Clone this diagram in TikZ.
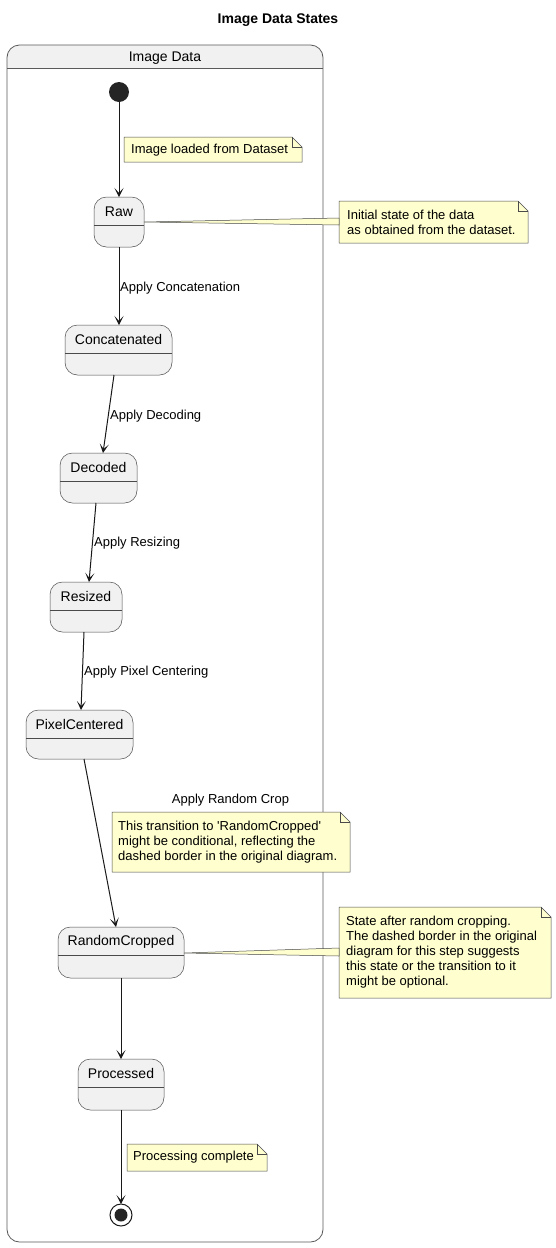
\documentclass[tikz,border=0pt]{standalone}
\usepackage{fontspec}
\setmainfont{Liberation Sans}
\usetikzlibrary{arrows.meta}
\definecolor{stfill}{HTML}{F1F1F1}
\definecolor{stline}{HTML}{181818}
\definecolor{bline}{HTML}{4A4A4A}
\definecolor{notefill}{HTML}{FEFECE}
\definecolor{cline}{HTML}{5A5A5A}
\tikzset{
  statebox/.style={draw=bline, line width=0.5pt, fill=stfill, rounded corners=12.5pt, inner sep=0pt, outer sep=0pt},
  divider/.style={draw=bline, line width=0.5pt},
  statelabel/.style={font=\fontsize{14}{16}\selectfont, inner sep=0pt},
  trlabel/.style={font=\fontsize{13}{15}\selectfont, inner sep=0pt, anchor=west},
  notetext/.style={font=\fontsize{13}{15}\selectfont, inner sep=0pt, anchor=west, align=left},
  notebody/.style={fill=notefill, draw=bline, line width=0.5pt},
  arr/.style={draw=stline, line width=1pt, -{Stealth[length=9pt,width=9pt,inset=5pt]}},
  container/.style={draw=cline, line width=0.8pt, rounded corners=12.5pt},
}
\newcommand\mystate[6]{%
  \node[statebox, minimum width={#4-#2}, minimum height={#5-#3}] (#1) at ({(#2+#4)/2},{(#3+#5)/2}) {};
  \draw[divider] (#2,#3+28) -- (#4,#3+28);
  \node[statelabel] (#1l) at ({(#2+#4)/2},#3+14.5) {#6};
}
\newcommand\mynote[5]{%
  \path[notebody] (#2,#3) -- (#4-10,#3) -- (#4,#3+10) -- (#4,#5) -- (#2,#5) -- cycle;
  \draw[bline, line width=0.5pt] (#4-10,#3) -- (#4-10,#3+10) -- (#4,#3+10);
  \coordinate (#1) at (#2,{(#3+#5)/2});
}
\begin{document}
\begin{tikzpicture}[x=1pt,y=-1pt]
\useasboundingbox (0,0) rectangle (556,1248);
\fill[white] (0,0) rectangle (556,1248);

% title
\node[font=\fontsize{14}{16}\selectfont\bfseries, inner sep=0pt] (title) at (278,20) {Image Data States};

% container
\begin{scope}
  \clip (7,45) rectangle (323,68);
  \fill[stfill, rounded corners=12.5pt] (7,45) rectangle (323,1242);
\end{scope}
\draw[container] (7,45) rectangle (323,1242);
\draw[draw=cline, line width=0.8pt] (7,68) -- (323,68);
\node[statelabel] (cont) at (165,58) {Image Data};

% start
\node[circle, fill=stline!95!white, minimum size=20pt, inner sep=0pt, outer sep=0pt] (start) at (119,92) {};

% states
\mystate{raw}{94}{197}{144}{247}{Raw}
\mystate{conc}{65}{325}{172}{375}{Concatenated}
\mystate{dec}{60}{453}{137}{503}{Decoded}
\mystate{res}{50}{582}{122}{632}{Resized}
\mystate{pix}{26}{710}{133}{759}{PixelCentered}
\mystate{rc}{58}{927}{184}{978}{RandomCropped}
\mystate{proc}{78}{1059}{164}{1110}{Processed}

% end
\node[circle, draw=stline, line width=1pt, fill=white, minimum size=22pt, inner sep=0pt, outer sep=0pt] (endc) at (121,1215) {};
\node[circle, fill=stline!95!white, minimum size=13pt, inner sep=0pt] (endi) at (endc) {};

% transitions
\draw[arr] (start) -- (raw.north);
\draw[arr] (raw.south) -- (conc.north -| raw.south);
\draw[arr] ([xshift=-4.5pt]conc.south) -- ([xshift=4.5pt]dec.north);
\draw[arr] ([xshift=-2.5pt]dec.south) -- ([xshift=3pt]res.north);
\draw[arr] ([xshift=-2pt]res.south) -- ([xshift=1.5pt]pix.north);
\draw[arr] ([xshift=4.5pt]pix.south) -- ([xshift=-5pt]rc.north);
\draw[arr] (rc.south) -- (proc.north);
\draw[arr] (proc.south) -- (endc.north);

% transition labels
\node[trlabel] (l1) at (120,288) {Apply Concatenation};
\node[trlabel] (l2) at (110,416) {Apply Decoding};
\node[trlabel] (l3) at (94,543) {Apply Resizing};
\node[trlabel] (l4) at (84,672) {Apply Pixel Centering};
\node[trlabel, anchor=center] (l5) at (230.5,800) {Apply Random Crop};

% notes
\mynote{n1}{124}{137}{302}{162}
\node[notetext] (n1t) at (131,150) {Image loaded from Dataset};

\mynote{n2}{339}{201}{528}{243}
\node[notetext] (n2t) at (347,222.5) {Initial state of the data\\as obtained from the dataset.};
\path[notebody] (raw.east) -- (n2 |- 0,218) -- (n2 |- 0,225) -- cycle;

\mynote{n3}{112}{812}{350}{872}
\node[notetext] (n3t) at (118,842) {This transition to \textquotesingle RandomCropped\textquotesingle\\might be conditional, reflecting the\\dashed border in the original diagram.};

\mynote{n4}{339}{907}{551}{998}
\node[notetext] (n4t) at (346,952) {State after random cropping.\\The dashed border in the original\\diagram for this step suggests\\this state or the transition to it\\might be optional.};
\path[notebody] ([yshift=-0.5pt]rc.east) -- (n4 |- 0,948) -- (n4 |- 0,956) -- cycle;

\mynote{n5}{127}{1144}{267}{1171}
\node[notetext] (n5t) at (133,1157.5) {Processing complete};
\end{tikzpicture}
\end{document}
